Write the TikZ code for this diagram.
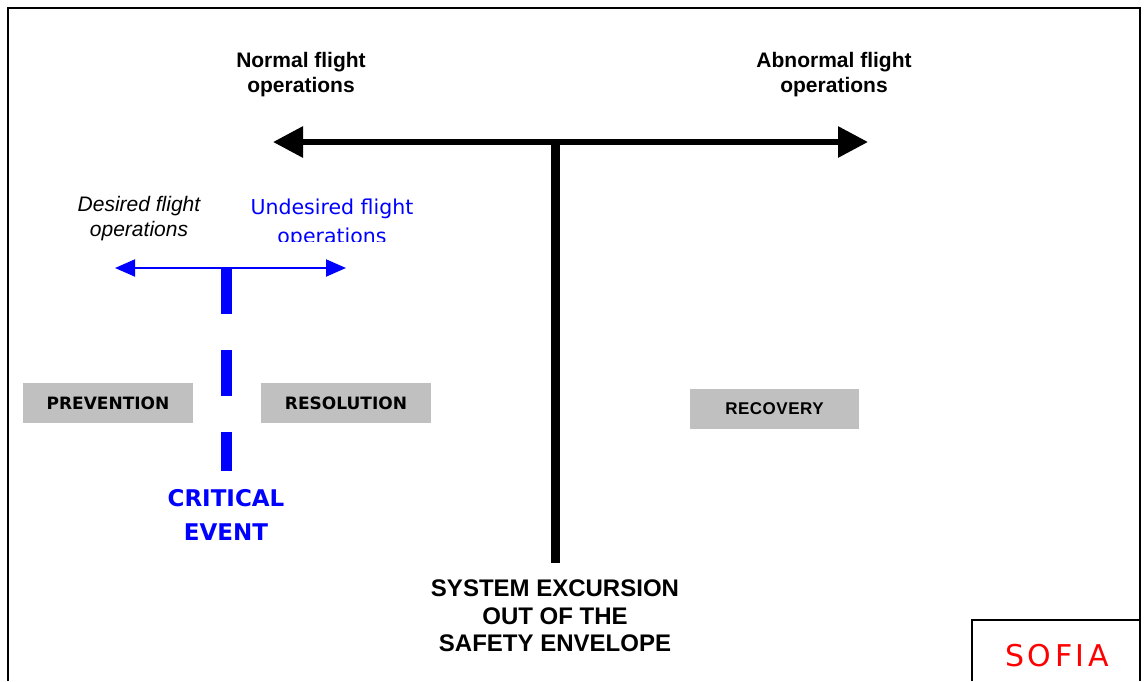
\documentclass[tikz,border=0pt]{standalone}
\usepackage{fontspec}
\setmainfont{Liberation Sans}
\newfontfamily\vfont{DejaVu Sans}
\newfontfamily\sofiafont{DejaVu Sans}[LetterSpace=12]
\newfontfamily\recfont{Liberation Sans}[LetterSpace=3]
\usetikzlibrary{arrows.meta}
\definecolor{boxgrey}{HTML}{C0C0C0}
\definecolor{pureblue}{RGB}{0,0,255}
\definecolor{purered}{RGB}{255,0,0}
\tikzset{
  headline/.style={align=center, font=\bfseries\fontsize{21}{25}\selectfont},
  phasebox/.style={fill=boxgrey, minimum width=170pt, minimum height=40pt, inner sep=0pt},
  phasetext/.style={font=\vfont\bfseries\fontsize{17}{20}\selectfont},
  bigarrow/.style={line width=6pt, {Triangle[length=30pt,width=30pt]}-{Triangle[length=30pt,width=30pt]}},
  smallarrow/.style={pureblue, line width=2pt, {Triangle[length=20pt,width=17pt]}-{Triangle[length=20pt,width=17pt]}},
}
\begin{document}
\begin{tikzpicture}[x=1pt,y=-1pt]
\useasboundingbox (0,0) rectangle (1145,681);

% outer frame, open at the bottom
\draw[line width=2pt] (8,681) -- (8,8) -- (1140,8) -- (1140,681);

% main axis: normal vs abnormal operations
\coordinate (normL) at (273,142);
\coordinate (abnR) at (868,142);
\coordinate (junc) at (555,142);
\draw[bigarrow] (normL) -- (abnR);

\node[headline] (normal) at (301,75) {Normal flight\\operations};
\node[headline] (abnormal) at (834,75) {Abnormal flight\\operations};

% stem down to the excursion
\node[align=center, font=\bfseries\fontsize{24}{27.5}\selectfont] (excursion) at (555,616)
  {SYSTEM EXCURSION\\OUT OF THE\\SAFETY ENVELOPE};
\coordinate (stemEnd) at (555,563);
\draw[line width=9pt] (junc) -- (stemEnd);

% secondary axis: desired vs undesired operations
\coordinate (desL) at (115,268);
\coordinate (undR) at (346,268);
\coordinate (bjunc) at (226,268);
\draw[smallarrow] (desL) -- (undR);

\node[align=center, font=\itshape\fontsize{21}{25}\selectfont] (desired) at (139,219)
  {Desired flight\\operations};
\begin{scope}
  \clip (230,185) rectangle (440,241);
  \node[align=center, anchor=north, inner sep=0pt, text=pureblue, font=\vfont\fontsize{20.5}{29}\selectfont] (undesired) at (332,199)
    {Undesired flight\\operations};
\end{scope}

% critical event marker
\coordinate (critEnd) at (226,471);
\draw[pureblue, line width=11pt, dash pattern=on 46pt off 36pt] (bjunc) -- (critEnd);
\node[align=center, text=pureblue, font=\vfont\bfseries\fontsize{23}{34}\selectfont] (critical) at (226,515)
  {CRITICAL\\EVENT};

% phases
\node[phasebox] (prevention) at (108,403) {\phantom{X}};
\node[phasetext] at (prevention) {PREVENTION};
\node[phasebox] (resolution) at (346,403) {\phantom{X}};
\node[phasetext] at (resolution) {RESOLUTION};
\node[phasebox, minimum width=169pt] (recovery) at (774.5,409) {\phantom{X}};
\node[font=\recfont\bfseries\fontsize{17}{20}\selectfont] at (recovery) {RECOVERY};

% logo box
\draw[line width=1.2pt] (972,681) -- (972,620) -- (1140,620);
\node[text=purered, font=\sofiafont\fontsize{30}{34}\selectfont] (sofia) at (1057,656) {SOFIA};
\end{tikzpicture}
\end{document}
